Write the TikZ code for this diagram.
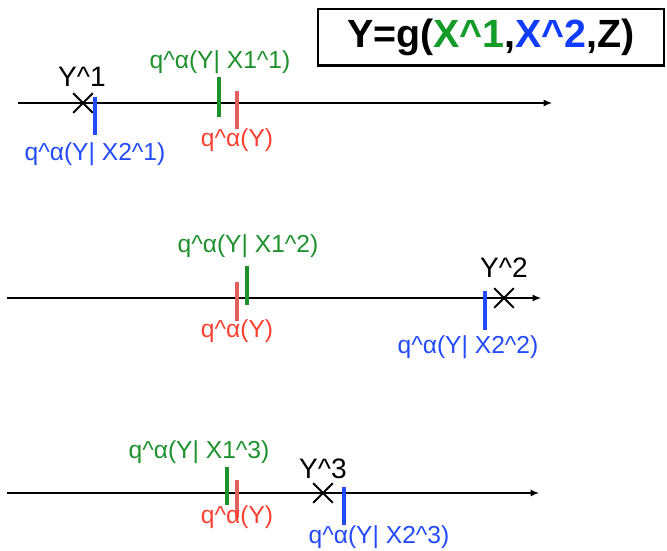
\documentclass[tikz,border=0pt]{standalone}
\usepackage{fontspec}
\setmainfont{Liberation Sans}
\usepackage{xcolor}
\usepackage{tikz}
\usetikzlibrary{arrows.meta, shapes.misc}

\definecolor{qgreen}{RGB}{30,145,45}
\definecolor{qblue}{RGB}{35,75,250}
\definecolor{qred}{RGB}{250,65,50}
\definecolor{tickred}{RGB}{225,95,95}
\definecolor{titlegreen}{RGB}{20,155,40}
\definecolor{titleblue}{RGB}{15,60,255}

\begin{document}
\begin{tikzpicture}[
    x=0.025cm, y=-0.025cm,
    axis/.style={-{Latex[length=6pt, width=5pt]}, line width=0.9pt},
    obs/.style={draw, cross out, line width=1.5pt, minimum size=12.5pt, inner sep=0pt},
    ylab/.style={font=\fontsize{20}{22}\selectfont},
    qlab/.style={font=\fontsize{17.5}{20}\selectfont},
    tick/.style={line width=2.2pt},
]
\useasboundingbox (0,0) rectangle (667,551);

% Title
\node[draw, line width=2pt, minimum width=8.65cm, minimum height=1.42cm,
      font=\bfseries\fontsize{28}{30}\selectfont] (title) at (491,37.5)
      {Y=g(\textcolor{titlegreen}{X\^{}1},\textcolor{titleblue}{X\^{}2},Z)};

% Axes
\coordinate (a1s) at (18,103);  \coordinate (a1e) at (552,103);
\coordinate (a2s) at (7,298);   \coordinate (a2e) at (541,298);
\coordinate (a3s) at (7,493);   \coordinate (a3e) at (539,493);
\draw[axis] (a1s) -- (a1e);
\draw[axis] (a2s) -- (a2e);
\draw[axis] (a3s) -- (a3e);

% First sample
\node[obs] (y1) at (83,103) {};
\node[ylab] (y1lab) at (82,77) {Y\^{}1};
\draw[tick, qblue] (95,97) -- (95,135);
\draw[tick, qgreen] (219,77) -- (219,117);
\draw[tick, tickred] (237,91) -- (237,129);
\node[qlab, text=qgreen] (g1) at (220,62) {q\^{}α(Y| X1\^{}1)};
\node[qlab, text=qred] (r1) at (237,140) {q\^{}α(Y)};
\node[qlab, text=qblue] (b1) at (95,154) {q\^{}α(Y| X2\^{}1)};

% Second sample
\node[obs] (y2) at (504,298) {};
\node[ylab] (y2lab) at (504,268) {Y\^{}2};
\draw[tick, tickred] (237,282) -- (237,321);
\draw[tick, qgreen] (247,266) -- (247,305);
\draw[tick, qblue] (485,291) -- (485,330);
\node[qlab, text=qgreen] (g2) at (248,246) {q\^{}α(Y| X1\^{}2)};
\node[qlab, text=qred] (r2) at (237,331) {q\^{}α(Y)};
\node[qlab, text=qblue] (b2) at (468,347) {q\^{}α(Y| X2\^{}2)};

% Third sample
\node[obs] (y3) at (323,493) {};
\node[ylab] (y3lab) at (323,469) {Y\^{}3};
\draw[tick, qgreen] (227,467) -- (227,505);
\draw[tick, tickred] (237,480) -- (237,518);
\draw[tick, qblue] (344,487) -- (344,525);
\node[qlab, text=qgreen] (g3) at (199,452) {q\^{}α(Y| X1\^{}3)};
\node[qlab, text=qred] (r3) at (237,517) {q\^{}α(Y)};
\node[qlab, text=qblue] (b3) at (379,537) {q\^{}α(Y| X2\^{}3)};

\end{tikzpicture}
\end{document}
